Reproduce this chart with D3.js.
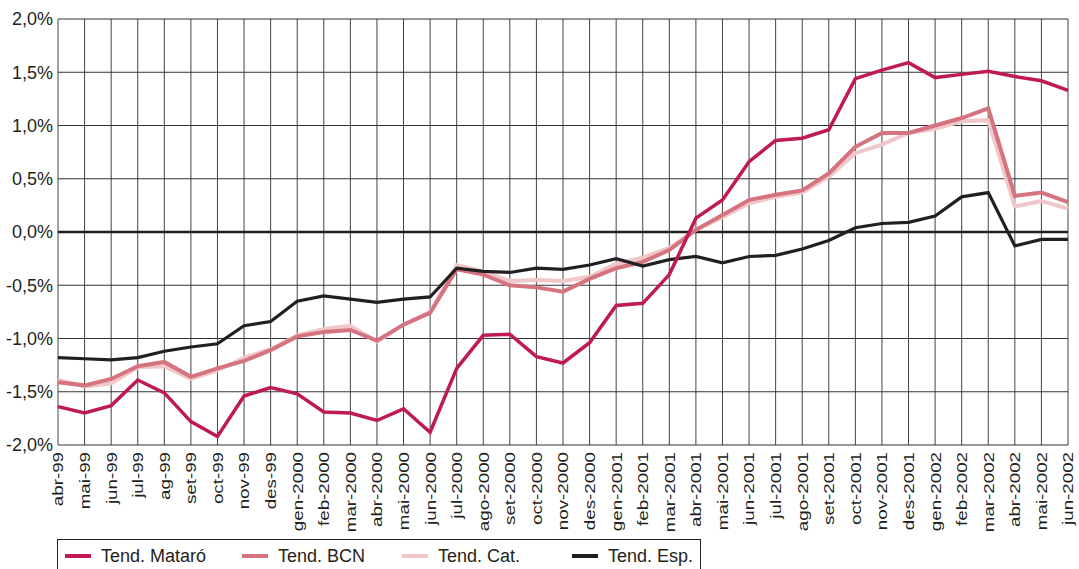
<!DOCTYPE html>
<html><head><meta charset="utf-8">
<script src="https://cdn.jsdelivr.net/npm/d3@7"></script>
<style>body{margin:0;background:#fff}svg{display:block}text{font-family:"Liberation Sans",Arial,sans-serif;fill:#231f20}</style>
</head><body>
<svg id="c" width="1079" height="569"></svg>
<script>
const months = ["abr-99","mai-99","jun-99","jul-99","ag-99","set-99","oct-99","nov-99","des-99","gen-2000","feb-2000","mar-2000","abr-2000","mai-2000","jun-2000","jul-2000","ago-2000","set-2000","oct-2000","nov-2000","des-2000","gen-2001","feb-2001","mar-2001","abr-2001","mai-2001","jun-2001","jul-2001","ago-2001","set-2001","oct-2001","nov-2001","des-2001","gen-2002","feb-2002","mar-2002","abr-2002","mai-2002","jun-2002"];
const mataro = [-1.64,-1.70,-1.63,-1.39,-1.51,-1.78,-1.92,-1.54,-1.46,-1.52,-1.69,-1.70,-1.77,-1.66,-1.88,-1.28,-0.97,-0.96,-1.17,-1.23,-1.04,-0.69,-0.67,-0.40,0.13,0.30,0.66,0.86,0.88,0.96,1.44,1.52,1.59,1.45,1.48,1.51,1.46,1.42,1.33];
const bcn = [-1.41,-1.44,-1.38,-1.26,-1.22,-1.36,-1.28,-1.21,-1.11,-0.98,-0.94,-0.92,-1.02,-0.87,-0.76,-0.35,-0.40,-0.50,-0.52,-0.56,-0.44,-0.34,-0.28,-0.17,0.02,0.16,0.30,0.35,0.39,0.55,0.80,0.93,0.93,1.00,1.07,1.16,0.34,0.37,0.28];
const cat = [-1.39,-1.45,-1.42,-1.27,-1.26,-1.38,-1.30,-1.18,-1.10,-0.97,-0.91,-0.88,-1.03,-0.87,-0.75,-0.31,-0.37,-0.46,-0.45,-0.46,-0.42,-0.30,-0.24,-0.15,0.02,0.14,0.27,0.33,0.37,0.52,0.74,0.82,0.93,0.97,1.04,1.05,0.24,0.29,0.22];
const esp = [-1.18,-1.19,-1.20,-1.18,-1.12,-1.08,-1.05,-0.88,-0.84,-0.65,-0.60,-0.63,-0.66,-0.63,-0.61,-0.34,-0.37,-0.38,-0.34,-0.35,-0.31,-0.25,-0.32,-0.26,-0.23,-0.29,-0.23,-0.22,-0.16,-0.08,0.04,0.08,0.09,0.15,0.33,0.37,-0.13,-0.07,-0.07];
const yTicks = [-2,-1.5,-1,-0.5,0,0.5,1,1.5,2];
const seriesNames = ["Tend. Mataró","Tend. BCN","Tend. Cat.","Tend. Esp."];
const colors = ["#bf1a51","#d5737f","#f0c6c8","#231f20"];

const svg = d3.select("#c");
const L=58, R=1068, T=19, B=445;
const x = d3.scalePoint().domain(months).range([L,R]);
const y = d3.scaleLinear().domain([-2,2]).range([B,T]);

// grid
const g = svg.append("g");
g.selectAll("line.v").data(months).join("line")
  .attr("x1",d=>x(d)).attr("x2",d=>x(d)).attr("y1",T).attr("y2",B)
  .attr("stroke","#444").attr("stroke-width",1);
g.selectAll("line.h").data(yTicks).join("line")
  .attr("x1",L).attr("x2",R).attr("y1",d=>y(d)).attr("y2",d=>y(d))
  .attr("stroke","#333").attr("stroke-width",1);

// y axis labels
const fmt = d=> d3.format(".1f")(d).replace(".",",").replace("−","-")+"%";
svg.append("g").selectAll("text").data(yTicks).join("text")
  .attr("x",53).attr("y",d=>y(d)).attr("dy","0.36em")
  .attr("text-anchor","end").attr("font-size",18).text(fmt);

// x axis labels
svg.append("g").selectAll("text").data(months).join("text")
  .attr("transform",d=>`translate(${x(d)},452) rotate(-90) scale(1.25,1)`)
  .attr("dy","0.36em").attr("text-anchor","end").attr("font-size",15).text(d=>d);

// zero line
svg.append("line").attr("x1",L).attr("x2",R).attr("y1",y(0)).attr("y2",y(0))
  .attr("stroke","#231f20").attr("stroke-width",2.5);

const line = d3.line().x((d,i)=>x(months[i])).y(d=>y(d));
const data = [mataro,bcn,cat,esp];
const widths = [3.5,4,4,3.2];
[2,1,3,0].forEach(k=>{
  svg.append("path").datum(data[k]).attr("d",line).attr("fill","none")
    .attr("stroke",colors[k]).attr("stroke-width",widths[k]).attr("stroke-linejoin","miter");
});

// legend
svg.append("rect").attr("x",57.5).attr("y",539.5).attr("width",643).attr("height",40)
  .attr("fill","#fff").attr("stroke","#231f20").attr("stroke-width",1);
const lx=[65,242,402,572];
seriesNames.forEach((n,i)=>{
  svg.append("line").attr("x1",lx[i]).attr("x2",lx[i]+26).attr("y1",556).attr("y2",556)
    .attr("stroke",colors[i]).attr("stroke-width",4);
  svg.append("text").attr("x",lx[i]+36).attr("y",556).attr("dy","0.36em")
    .attr("font-size",18).text(n);
});
</script>
</body></html>
